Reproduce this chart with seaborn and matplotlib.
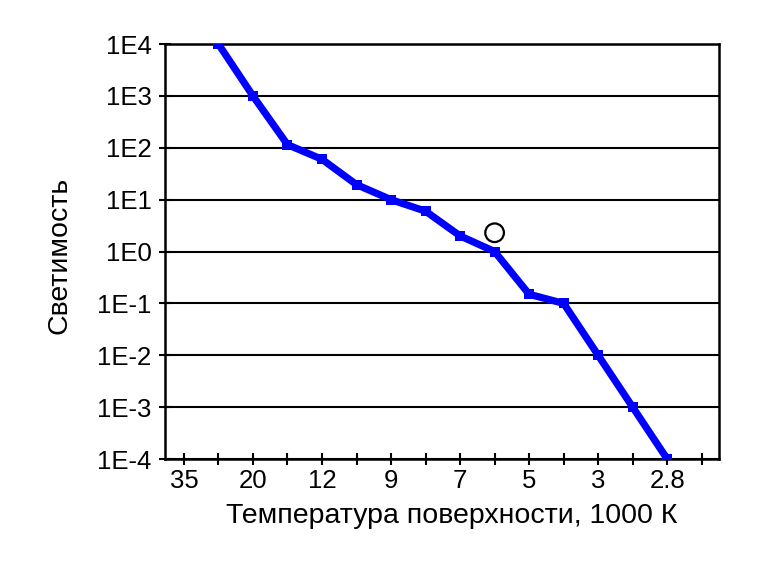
import matplotlib
matplotlib.use("Agg")
import matplotlib.pyplot as plt
import matplotlib.ticker as mticker
import seaborn as sns
import pandas as pd

# Data
positions = [1, 2, 3, 4, 5, 6, 7, 8, 9, 10, 11, 12, 13, 14]
luminosity = [1e4, 1e3, 1.15e2, 60, 19.5, 10, 6, 2, 1, 0.15, 0.1, 1e-2, 1e-3, 1e-4]
tick_positions = [0, 2, 4, 6, 8, 10, 12, 14]
tick_labels = ["35", "20", "12", "9", "7", "5", "3", "2.8"]
y_ticks = [1e-4, 1e-3, 1e-2, 1e-1, 1e0, 1e1, 1e2, 1e3, 1e4]
y_labels = ["1E-4", "1E-3", "1E-2", "1E-1", "1E0", "1E1", "1E2", "1E3", "1E4"]
sun_x = [9]
sun_y = [2.3]

df = pd.DataFrame({"pos": positions, "lum": luminosity})

sns.set_style("white")
plt.rcParams['font.family'] = ['Liberation Sans', 'DejaVu Sans']
plt.rcParams.update({"text.color": "black", "axes.labelcolor": "black",
                     "xtick.color": "black", "ytick.color": "black"})

fig = plt.figure(figsize=(7.67, 5.74), dpi=100)
ax = fig.add_axes([0.215, 0.2003, 0.7224, 0.723])

ax.set_yscale("log")
sns.lineplot(data=df, x="pos", y="lum", ax=ax, color="#0000FF", linewidth=5.2,
             marker="s", markersize=7, markeredgewidth=0, zorder=3)
ax.scatter(sun_x, sun_y, s=180, facecolors="none", edgecolors="black",
           linewidths=1.6, zorder=4)

ax.set_xlim(-0.55, 15.5)
ax.set_ylim(1e-4, 1e4)

# x ticks: every position, labels at every other one
ax.xaxis.set_major_locator(mticker.FixedLocator(list(range(16))))
ax.set_xticklabels([tick_labels[tick_positions.index(i)] if i in tick_positions else ""
                    for i in range(16)])
ax.set_yticks(y_ticks)
ax.set_yticklabels(y_labels)
ax.yaxis.set_minor_locator(mticker.LogLocator(base=10, subs=range(2, 10), numticks=20))
ax.yaxis.set_minor_formatter(mticker.NullFormatter())

ax.tick_params(axis="x", which="major", direction="inout", length=9, width=1.5,
               labelsize=18.5, pad=3, color="black", labelcolor="black")
ax.tick_params(axis="y", which="major", direction="inout", length=9, width=1.5,
               labelsize=18.5, pad=5, color="black", labelcolor="black")
ax.tick_params(axis="y", which="minor", direction="inout", length=5, width=1.2,
               color="black")
ax.tick_params(left=True, bottom=True)

ax.grid(True, axis="y", which="major", color="black", linewidth=1.5)
for s in ax.spines.values():
    s.set_color("black")
    s.set_linewidth(1.8)

ax.set_xlabel("Температура поверхности, 1000 К", fontsize=20.5, color="black")
ax.set_ylabel("Светимость", fontsize=20.5, color="black")
ax.xaxis.set_label_coords(0.518, -0.105)
ax.yaxis.set_label_coords(-0.166, 0.49)

fig.savefig("out.png", dpi=100)
